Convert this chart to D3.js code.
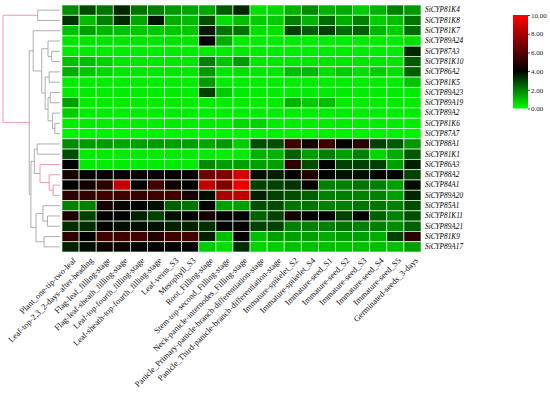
<!DOCTYPE html>
<html>
<head>
<meta charset="utf-8">
<script src="https://cdn.jsdelivr.net/npm/d3@7"></script>
<style>
  body { margin: 0; background: #fff; }
  text { font-family: "Liberation Serif", "Times New Roman", serif; }
</style>
</head>
<body>
<svg id="chart" width="550" height="395"></svg>
<script>
// genes (rows, top to bottom)
var genes = ["SiCYP81K4", "SiCYP81K8", "SiCYP81K7", "SiCYP89A24", "SiCYP87A3", "SiCYP81K10",
    "SiCYP86A2", "SiCYP81K5", "SiCYP89A23", "SiCYP89A19", "SiCYP89A2", "SiCYP81K6",
    "SiCYP87A7", "SiCYP88A1", "SiCYP81K1", "SiCYP86A3", "SiCYP88A2", "SiCYP84A1",
    "SiCYP89A20", "SiCYP85A1", "SiCYP81K11", "SiCYP89A21", "SiCYP81K9", "SiCYP89A17"];

// tissues (columns, left to right)
var tissues = ["Plant_one-tip-two-leaf", "Leaf-top-2,3_2-days-after-heading", "Flag-leaf_filling-stage",
    "Flag-leaf-sheath_filling-stage", "Leaf-top-fourth_filling-stage", "Leaf-sheath-top-fourth_filling-stage",
    "Leaf-veins_S3", "Mesophyll_S3", "Root_Filling-stage", "Stem-top-second_Filling-stage",
    "Neck-panicle-internodes_Filling-stage", "Panicle_Primary-panicle-branch-differentiation-stage",
    "Panicle_Third-panicle-branch-differentiation-stage", "Immature-spikelet_S2", "Immature-spikelet_S4",
    "Immature-seed_S1", "Immature-seed_S2", "Immature-seed_S3", "Immature-seed_S4", "Immature-seed_S5",
    "Germinated-seeds_3-days"];

// expression values, one row per gene
var expr = [
    [1.8, 2.8, 2.2, 3.4, 2.2, 2.0, 1.6, 1.4, 1.4, 2.6, 3.4, 0.5, 0.6, 1.2, 1.8, 1.2, 1.3, 0.8, 1.2, 2.0, 1.6],
    [3.2, 1.0, 2.0, 3.3, 1.4, 3.7, 1.3, 1.1, 2.8, 0.5, 1.0, 0.8, 0.8, 2.0, 1.2, 2.3, 1.3, 2.0, 0.8, 1.0, 2.2],
    [1.0, 1.5, 1.2, 1.0, 0.9, 0.9, 0.9, 0.9, 3.6, 2.2, 2.2, 0.5, 0.5, 3.0, 2.5, 3.0, 2.3, 2.5, 1.2, 0.8, 2.3],
    [0.4, 0.4, 0.4, 0.4, 0.4, 0.4, 0.4, 0.4, 4.0, 1.3, 0.3, 0.3, 0.3, 0.3, 0.3, 0.3, 0.3, 0.3, 0.3, 0.3, 0.5],
    [0.3, 0.3, 0.3, 0.3, 0.3, 0.3, 0.3, 0.3, 0.3, 0.3, 0.3, 0.3, 0.3, 0.3, 0.3, 0.3, 0.3, 0.3, 0.3, 0.3, 3.4],
    [1.0, 1.0, 0.7, 0.4, 0.4, 0.4, 0.4, 0.4, 2.0, 0.9, 1.6, 0.4, 0.4, 0.4, 0.4, 0.4, 0.4, 0.4, 0.4, 0.4, 2.6],
    [1.3, 0.9, 0.6, 0.4, 0.4, 0.4, 0.4, 0.4, 1.6, 0.4, 0.5, 0.4, 0.4, 1.0, 1.1, 0.5, 0.8, 0.5, 0.8, 0.5, 2.5],
    [0.3, 0.3, 0.3, 0.3, 0.3, 0.3, 0.3, 0.3, 1.6, 0.3, 0.3, 0.3, 0.3, 0.3, 0.3, 0.3, 0.3, 0.3, 0.3, 0.3, 0.9],
    [0.3, 0.3, 0.3, 0.3, 0.3, 0.3, 0.3, 0.3, 3.0, 0.8, 0.3, 0.3, 0.3, 0.3, 0.3, 0.3, 0.3, 0.3, 0.3, 0.3, 0.3],
    [1.5, 0.3, 0.3, 0.3, 0.3, 0.3, 0.3, 0.3, 0.3, 0.3, 0.3, 0.3, 0.3, 1.2, 0.8, 1.0, 0.3, 0.3, 0.3, 0.3, 0.3],
    [0.8, 0.3, 0.3, 0.3, 0.3, 0.3, 0.3, 0.3, 0.3, 0.3, 0.3, 0.3, 0.3, 0.3, 0.3, 0.3, 0.3, 0.3, 0.3, 0.3, 0.3],
    [0.3, 0.3, 0.3, 0.3, 0.3, 0.3, 0.3, 0.3, 0.3, 0.3, 0.6, 0.7, 0.3, 0.3, 0.3, 0.3, 0.3, 0.3, 0.3, 0.3, 0.3],
    [0.2, 0.2, 0.2, 0.2, 0.2, 0.2, 0.2, 0.2, 0.2, 0.2, 0.2, 0.2, 0.2, 0.2, 0.2, 0.2, 0.2, 0.2, 0.2, 0.2, 0.2],
    [1.8, 1.6, 1.6, 1.4, 1.5, 1.6, 1.5, 1.5, 1.4, 1.6, 0.8, 2.8, 2.8, 5.5, 4.5, 5.5, 4.0, 5.0, 3.0, 2.6, 1.6],
    [2.8, 0.3, 0.3, 0.3, 0.3, 0.3, 0.3, 0.3, 0.3, 0.3, 0.3, 1.2, 1.2, 2.5, 1.5, 2.0, 1.5, 2.0, 0.6, 1.3, 2.6],
    [4.0, 0.3, 0.3, 0.3, 0.3, 0.3, 0.3, 0.3, 1.8, 1.5, 1.5, 1.5, 1.5, 5.0, 2.8, 4.0, 3.0, 3.0, 3.0, 1.5, 3.5],
    [4.6, 3.9, 4.0, 4.0, 4.0, 4.0, 4.0, 4.0, 6.5, 7.0, 9.0, 3.8, 3.5, 4.0, 4.8, 4.0, 3.7, 3.8, 4.0, 4.0, 3.0],
    [4.0, 4.5, 5.0, 8.5, 4.0, 5.5, 4.5, 4.0, 8.5, 7.0, 9.5, 3.0, 3.0, 3.2, 4.0, 2.0, 2.0, 2.2, 2.0, 1.5, 3.8],
    [5.0, 5.2, 5.5, 5.5, 5.3, 5.5, 5.5, 4.6, 3.8, 8.0, 8.5, 3.5, 3.0, 2.8, 2.5, 2.0, 2.0, 2.0, 2.0, 1.5, 3.4],
    [2.0, 2.0, 4.5, 4.2, 4.0, 3.8, 2.5, 2.2, 4.0, 1.5, 1.5, 2.8, 2.8, 2.2, 2.2, 2.0, 2.0, 2.2, 2.2, 2.0, 2.8],
    [4.7, 3.0, 4.0, 4.0, 3.5, 3.0, 3.8, 4.0, 4.5, 4.0, 4.0, 2.5, 3.0, 4.4, 4.0, 4.0, 3.0, 4.0, 2.5, 2.0, 2.8],
    [3.3, 3.3, 4.0, 3.8, 3.8, 3.8, 3.5, 3.5, 3.3, 4.0, 4.0, 3.0, 3.0, 2.0, 2.0, 2.0, 2.2, 2.0, 2.0, 1.8, 2.5],
    [5.0, 4.0, 5.5, 5.5, 5.5, 4.8, 5.5, 5.5, 3.5, 1.0, 4.0, 1.0, 1.5, 1.5, 1.5, 1.3, 1.5, 1.5, 1.3, 3.0, 5.0],
    [3.5, 3.8, 4.3, 4.2, 4.0, 4.0, 4.0, 4.0, 0.8, 0.5, 3.3, 0.7, 0.8, 1.0, 1.0, 1.0, 1.0, 1.0, 1.0, 1.0, 1.5]
];

// colour legend ticks
var legendTicks = [0, 2, 4, 6, 8, 10];

// row clustering (h = merge height)
var tree = {h: 10, pink: true, children: [
    {h: 3.9, children: ["SiCYP81K4", "SiCYP81K8"]},
    {h: 5.4, children: [
        {h: 4.7, children: [
            "SiCYP81K7",
            {h: 3.2, children: [
                {h: 2.1, children: ["SiCYP89A24", {h: 1.45, children: ["SiCYP87A3", "SiCYP81K10"]}]},
                {h: 2.6, children: [
                    {h: 1.9, children: ["SiCYP86A2", "SiCYP81K5"]},
                    {h: 2.1, children: [
                        {h: 1.7, children: ["SiCYP89A23", "SiCYP89A19"]},
                        {h: 1.3, children: ["SiCYP89A2", {h: 0.9, children: ["SiCYP81K6", "SiCYP87A7"]}]}
                    ]}
                ]}
            ]}
        ]},
        {h: 5.1, children: [
            {h: 4.5, children: [
                {h: 4.0, children: ["SiCYP88A1", "SiCYP81K1"]},
                {h: 3.5, pink: true, children: ["SiCYP86A3",
                    {h: 1.9, pink: true, children: ["SiCYP88A2", {h: 1.2, pink: true, children: ["SiCYP84A1", "SiCYP89A20"]}]}]}
            ]},
            {h: 4.2, children: [
                {h: 3.0, children: ["SiCYP85A1", {h: 2.2, children: ["SiCYP81K11", "SiCYP89A21"]}]},
                {h: 2.8, children: ["SiCYP81K9", "SiCYP89A17"]}
            ]}
        ]}
    ]}
]};

var svg = d3.select("#chart"),
    margin = {top: 5, left: 62},
    width = 359,
    height = 247;

var x = d3.scaleBand().domain(tissues).range([0, width]),
    y = d3.scaleBand().domain(genes).range([0, height]);

var color = d3.scaleLinear().domain([0, 4, 10]).range(["#00ff00", "#000000", "#ff0000"]);

var graph = svg.append("g")
    .attr("transform", "translate(" + margin.left + "," + margin.top + ")");

var cells = [];
expr.forEach(function(row, i) {
    row.forEach(function(v, j) {
        cells.push({gene: genes[i], tissue: tissues[j], value: v});
    });
});

graph.selectAll(".cell")
    .data(cells)
    .enter().append("rect")
    .attr("class", "cell")
    .attr("x", function(d) { return x(d.tissue); })
    .attr("y", function(d) { return y(d.gene); })
    .attr("width", x.bandwidth())
    .attr("height", y.bandwidth())
    .attr("fill", function(d) { return color(d.value); })
    .attr("stroke", "#e6ffe6")
    .attr("stroke-opacity", 0.85)
    .attr("stroke-width", 0.8);

// gene labels on the right
graph.append("g")
    .attr("transform", "translate(" + width + ",0)")
    .call(d3.axisRight(y).tickSize(0).tickPadding(4))
    .call(function(g) { g.select(".domain").remove(); })
    .selectAll("text")
    .attr("font-family", "'Liberation Serif', serif")
    .attr("font-style", "italic")
    .attr("font-size", 7.3)
    .attr("fill", "#000");

// tissue labels underneath
graph.append("g")
    .attr("transform", "translate(0," + height + ")")
    .call(d3.axisBottom(x).tickSize(0))
    .call(function(g) { g.select(".domain").remove(); })
    .selectAll("text")
    .attr("font-family", "'Liberation Serif', serif")
    .attr("font-size", 8.4)
    .attr("fill", "#111")
    .attr("x", 0)
    .attr("y", 0)
    .attr("dy", 0)
    .attr("transform", "translate(6,9) rotate(-45)")
    .style("text-anchor", "end");

// dendrogram
var root = d3.hierarchy(tree, function(d) { return typeof d === "string" ? null : d.children; });
var dx = d3.scaleLinear().domain([0, 10]).range([60, 3]);
root.eachAfter(function(n) {
    if (!n.children) {
        n.py = margin.top + y(n.data) + y.bandwidth() / 2;
        n.px = dx(0);
    } else {
        n.py = d3.mean(n.children, function(c) { return c.py; });
        n.px = dx(n.data.h);
    }
});

var dendro = svg.append("g").attr("fill", "none").attr("stroke-width", 0.8);
root.descendants().filter(function(n) { return n.children; }).forEach(function(n) {
    var col = n.data.pink ? "#e8839f" : "#9a9a9a";
    dendro.append("line")
        .attr("x1", n.px).attr("x2", n.px)
        .attr("y1", d3.min(n.children, function(c) { return c.py; }))
        .attr("y2", d3.max(n.children, function(c) { return c.py; }))
        .attr("stroke", col);
    n.children.forEach(function(c) {
        dendro.append("line")
            .attr("x1", n.px).attr("x2", c.px)
            .attr("y1", c.py).attr("y2", c.py)
            .attr("stroke", col);
    });
});

// colour legend
var defs = svg.append("defs");
var grad = defs.append("linearGradient")
    .attr("id", "legendGrad")
    .attr("x1", "0").attr("y1", "1").attr("x2", "0").attr("y2", "0");
grad.selectAll("stop")
    .data(d3.range(0, 10.01, 0.5))
    .enter().append("stop")
    .attr("offset", function(d) { return d / 10; })
    .attr("stop-color", function(d) { return color(d); });

var ly = d3.scaleLinear().domain([0, 10]).range([108.5, 15]);
svg.append("rect")
    .attr("x", 513)
    .attr("y", ly(10))
    .attr("width", 15)
    .attr("height", ly(0) - ly(10))
    .attr("fill", "url(#legendGrad)");

svg.append("g")
    .attr("transform", "translate(528,0)")
    .call(d3.axisRight(ly).tickValues(legendTicks).tickFormat(d3.format(".2f")).tickSize(2).tickPadding(1))
    .call(function(g) { g.select(".domain").remove(); })
    .call(function(g) {
        g.selectAll("text")
            .attr("font-family", "'Liberation Serif', serif")
            .attr("font-size", 7)
            .attr("fill", "#222");
        g.selectAll("line").attr("stroke", "#444");
    });
</script>
</body>
</html>
